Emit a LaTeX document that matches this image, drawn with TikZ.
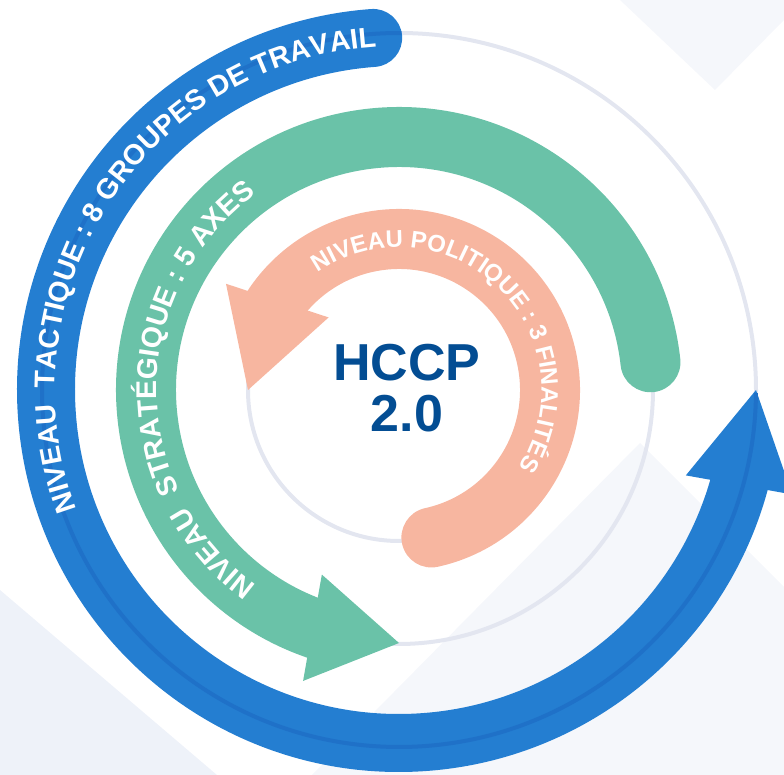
\documentclass[tikz,border=0pt]{standalone}
\usepackage{fontspec}
\setmainfont{Liberation Sans}
\usepackage{xcolor}
\usetikzlibrary{calc}
\usetikzlibrary{decorations.text}
\definecolor{tacblue}{HTML}{247ED1}
\definecolor{tacstripe}{HTML}{1F71C8}
\definecolor{strgreen}{HTML}{6AC2A8}
\definecolor{polsalmon}{HTML}{F7B6A0}
\definecolor{hccpblue}{HTML}{034D93}
\definecolor{ringgray}{HTML}{E3E6F0}
\definecolor{shadeA}{HTML}{F5F7FB}
\definecolor{shadeB}{HTML}{EEF2F9}
\tikzstyle{ring} = [draw=ringgray, line width=4pt]
\tikzstyle{band} = [line width=60pt, line cap=round]
\tikzstyle{bandtext} = [decorate, decoration={text along path, text align=center, text color=white}]
\newcommand{\tacfont}{\bfseries\fontsize{28.5}{28.5}\selectfont}
\newcommand{\strfont}{\bfseries\fontsize{28.5}{28.5}\selectfont}
\newcommand{\polfont}{\bfseries\fontsize{24}{24}\selectfont}

\begin{document}
\begin{tikzpicture}[x=1pt, y=1pt]
    \useasboundingbox (-399,-385) rectangle (385,390);
    \fill[shadeA] (221,390) -- (316,300) -- (385,370) -- (385,390) -- cycle;
    \fill[shadeB] (-399,-200) -- (-182,-385) -- (-399,-385) -- cycle;
    \fill[shadeA] (241,-53) -- (385,-197) -- (385,-385) -- (-87,-385) -- cycle;

    \draw[ring] (0,0) circle (151);
    \draw[ring] (0,0) circle (254);
    \draw[ring] (0,0) circle (357);

    \coordinate (tacB) at (344.4:353);
    \coordinate (tacT) at (0:357);
    \coordinate (strB) at (250:253);
    \coordinate (strT) at (270:253);
    \coordinate (polB) at (143.7:151);
    \coordinate (polT) at (180:151);

    \draw[band, tacblue, line width=58pt] (94.2:353) arc[start angle=94.2, end angle=345.4, radius=353];
    \fill[tacblue] ($(tacB)!54pt!90:(tacT)$) -- (tacT) -- ($(tacB)!54pt!-90:(tacT)$) -- cycle;
    \draw[tacstripe, line width=4pt] (89.6:357) arc[start angle=89.6, end angle=359.5, radius=357];

    \draw[band, strgreen] (6.3:253) arc[start angle=6.3, end angle=251.5, radius=253];
    \fill[strgreen] ($(strB)!54pt!90:(strT)$) -- (strT) -- ($(strB)!54pt!-90:(strT)$) -- cycle;

    \draw[band, polsalmon] (-77.6:151) arc[start angle=-77.6, end angle=146, radius=151];
    \fill[polsalmon] ($(polB)!54pt!90:(polT)$) -- (polT) -- ($(polB)!54pt!-90:(polT)$) -- cycle;

    \path[bandtext, decoration={text={|\tacfont|NIVEAU{\ \ }TACTIQUE : 8 GROUPES DE TRAVAIL}}] (207:344) arc[start angle=207, end angle=87, radius=344];
    \path[bandtext, decoration={text={|\strfont|NIVEAU{\ \ }STRATÉGIQUE : 5 AXES}}] (240:242) arc[start angle=240, end angle=120, radius=242];
    \path[bandtext, decoration={text={|\polfont|NIVEAU POLITIQUE : 3 FINALITÉS}}] (141:142.5) arc[start angle=141, end angle=-49, radius=142.5];

    \node[align=center, text=hccpblue, font=\bfseries\fontsize{52}{51}\selectfont, inner sep=0pt] (hccp) at (8,2) {HCCP\\2.0};
\end{tikzpicture}
\end{document}
